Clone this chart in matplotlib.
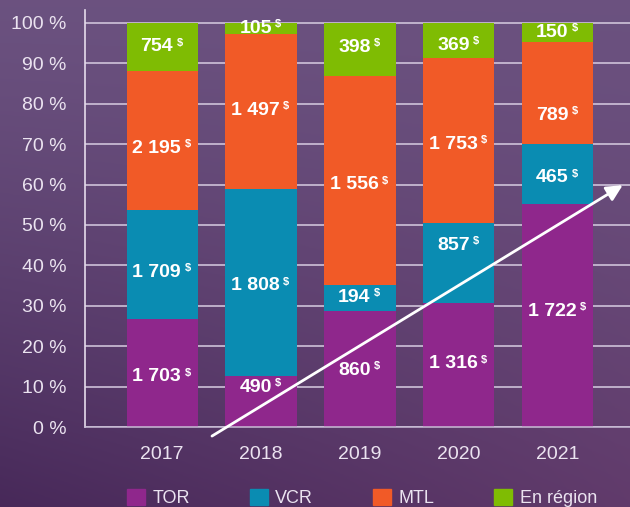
import numpy as np
import matplotlib
matplotlib.use('Agg')
import matplotlib.pyplot as plt
from matplotlib.patches import Patch

plt.rcParams['font.family'] = ['Liberation Sans', 'DejaVu Sans']

# Data: amounts in $ per year and region
years = ['2017', '2018', '2019', '2020', '2021']
series = ['TOR', 'VCR', 'MTL', 'En région']
tor = [1703, 490, 860, 1316, 1722]
vcr = [1709, 1808, 194, 857, 465]
mtl = [2195, 1497, 1556, 1753, 789]
region = [754, 105, 398, 369, 150]
colors = ['#8f278c', '#0a8cb2', '#f15a27', '#7fbc03']

# small label nudges (in % points) to follow the original placement
nudge = np.array([[-1.0, 3.6, -0.3, 0.3, 1.0],
                  [-2.0, -0.8, 0.2, 4.4, -0.9],
                  [-2.0, 0.3, -1.0, -1.0, -5.4],
                  [0.0, 0.0, 0.6, -1.2, 0.0]])

vals = np.array([tor, vcr, mtl, region], dtype=float)
pct = vals / vals.sum(axis=0) * 100
x = np.arange(len(years))

W, H = 630, 507
fig = plt.figure(figsize=(W/100, H/100), dpi=100)

# purple gradient background
yy, xx = np.mgrid[0:1:200j, 0:1:200j]
top = np.array([0.42, 0.32, 0.50])
bl = np.array([0.28, 0.16, 0.35])
br = np.array([0.38, 0.23, 0.42])
bot = bl[None, None, :]*(1-xx[..., None]) + br[None, None, :]*xx[..., None]
t = (yy**1.3)[..., None]
grad = top[None, None, :]*(1-t) + bot*t
bg = fig.add_axes([0, 0, 1, 1])
bg.imshow(grad, aspect='auto', extent=[0, 1, 0, 1], origin='upper')
bg.axis('off')

ax = fig.add_axes([85/W, 80/H, 545/W, 417/H])
ax.patch.set_alpha(0)

bottom = np.zeros(len(years))
for i in range(4):
    ax.bar(x, pct[i], width=0.72, bottom=bottom, color=colors[i], zorder=2)
    for j in range(len(years)):
        yc = bottom[j] + pct[i][j]/2 + nudge[i][j]
        lab = f"{int(vals[i][j]):,}".replace(',', ' ')
        t1 = ax.annotate(lab, (x[j], yc), xytext=(-4, 0), textcoords='offset points',
                         ha='center', va='center', color='white', fontsize=14,
                         fontweight='bold', zorder=4)
        ax.annotate('$', xy=(1, 1), xycoords=t1, xytext=(2.5, 0.5), textcoords='offset points',
                    ha='left', va='top', color='white', fontsize=8, fontweight='bold', zorder=4)
    bottom += pct[i]

ax.set_xlim(-0.78, 4.73)
ax.set_ylim(0, 103.2)
ax.set_yticks(range(0, 101, 10))
ax.set_yticklabels([f"{v} %" for v in range(0, 101, 10)])
ax.set_xticks(x)
ax.set_xticklabels(years)
ax.tick_params(length=0, labelsize=14, colors='#ebe3f0')
ax.tick_params(axis='y', pad=13.5)
ax.tick_params(axis='x', pad=14)
ax.yaxis.grid(True, color='#d8cde2', lw=1.1)
ax.set_axisbelow(True)
for s in ['top', 'right']:
    ax.spines[s].set_visible(False)
ax.spines['left'].set_color('#e6dcec')
ax.spines['left'].set_linewidth(1.2)
ax.spines['bottom'].set_color('#c9bdd6')
ax.spines['bottom'].set_linewidth(1.1)

# trend arrow
ax.annotate('', xy=(4.68, 60.2), xytext=(0.48, -2.6),
            arrowprops=dict(arrowstyle='-|>', color='white', lw=2, mutation_scale=24),
            annotation_clip=False, zorder=5)

handles = [Patch(color=c) for c in colors]
fig.legend(handles, series, loc='upper left', bbox_to_anchor=(127/W, 1 - 489/H),
           ncol=4, frameon=False, borderpad=0, borderaxespad=0, handlelength=1.0,
           handleheight=1.0, handletextpad=0.42, columnspacing=3.3, fontsize=13,
           labelcolor='#ebe3f0')

fig.savefig('out.png', dpi=100)
